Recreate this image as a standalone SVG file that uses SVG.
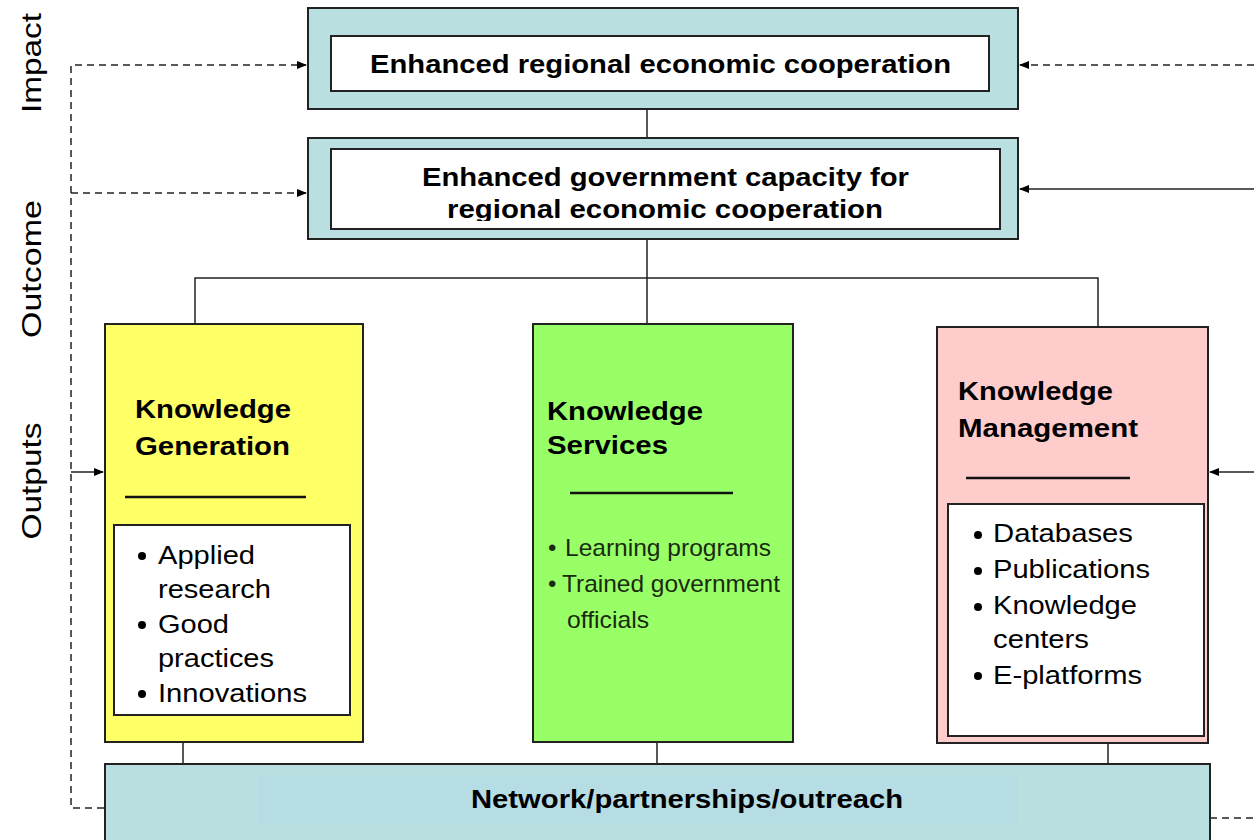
<svg xmlns="http://www.w3.org/2000/svg" width="1254" height="840" viewBox="0 0 1254 840">
<style>
.lbl{font-family:"Liberation Sans",Arial,sans-serif;font-size:28px;fill:#000}
.hd{font-family:"Liberation Sans",Arial,sans-serif;font-size:25px;font-weight:bold;fill:#000}
.bt{font-family:"Liberation Sans",Arial,sans-serif;font-size:25px;fill:#000}
.nar{font-family:"Liberation Sans",Arial,sans-serif;font-size:24px;fill:#1a2a10}
.box{stroke:#222;stroke-width:2}
.ln{stroke:#222;stroke-width:1.5;fill:none}
.dash{stroke:#222;stroke-width:1.5;fill:none;stroke-dasharray:7,5}
</style>
<defs>
<marker id="ah" markerWidth="10" markerHeight="10" refX="9" refY="5" orient="auto" markerUnits="userSpaceOnUse">
<path d="M0,1 L10,5 L0,9 Z" fill="#000"/>
</marker>
<clipPath id="clipOut"><rect x="331" y="150" width="668" height="71"/></clipPath>
</defs>
<rect width="1254" height="840" fill="#fff"/>

<text class="lbl" transform="translate(41,63) rotate(-90)" text-anchor="middle" textLength="100" lengthAdjust="spacingAndGlyphs">Impact</text>
<text class="lbl" transform="translate(41,269) rotate(-90)" text-anchor="middle" textLength="138" lengthAdjust="spacingAndGlyphs">Outcome</text>
<text class="lbl" transform="translate(41,481) rotate(-90)" text-anchor="middle" textLength="117" lengthAdjust="spacingAndGlyphs">Outputs</text>

<g id="connectors">
<path class="dash" d="M104,808 L71,808 L71,65 L306,65" marker-end="url(#ah)"/>
<path class="dash" d="M71,193 L306,193" marker-end="url(#ah)"/>
<path class="ln" d="M71,472 L103,472" marker-end="url(#ah)"/>
<path class="dash" d="M1254,65 L1020,65" marker-end="url(#ah)"/>
<path class="ln" d="M1254,189 L1020,189" marker-end="url(#ah)"/>
<path class="ln" d="M1254,472 L1210,472" marker-end="url(#ah)"/>
<path class="dash" d="M1210,818 L1254,818"/>
<path class="ln" d="M647,110 L647,138"/>
<path class="ln" d="M647,239 L647,278 M195,324 L195,278 L1098,278 L1098,327 M647,278 L647,324"/>
<path class="ln" d="M183,742 L183,764 M657,742 L657,764 M1108,743 L1108,764"/>
</g>

<g id="impact">
<rect class="box" x="308" y="8" width="710" height="101" fill="#b9dfe0"/>
<rect class="box" x="331" y="36" width="658" height="55" fill="#fff"/>
<text class="hd" x="370" y="73" textLength="581" lengthAdjust="spacingAndGlyphs">Enhanced regional economic cooperation</text>
</g>

<g id="outcome">
<rect class="box" x="308" y="138" width="710" height="101" fill="#b9dfe0"/>
<rect class="box" x="331" y="149" width="669" height="80" fill="#fff"/>
<g clip-path="url(#clipOut)">
<text class="hd" x="422" y="186" textLength="487" lengthAdjust="spacingAndGlyphs">Enhanced government capacity for</text>
<text class="hd" x="447" y="218" textLength="436" lengthAdjust="spacingAndGlyphs">regional economic cooperation</text>
</g>
</g>

<g id="generation">
<rect class="box" x="105" y="324" width="258" height="418" fill="#ffff66"/>
<text class="hd" x="135" y="418" textLength="156" lengthAdjust="spacingAndGlyphs">Knowledge</text>
<text class="hd" x="135" y="455" textLength="155" lengthAdjust="spacingAndGlyphs">Generation</text>
<line x1="125" y1="497" x2="306" y2="497" stroke="#111" stroke-width="2.5"/>
<rect class="box" x="114" y="525" width="236" height="190" fill="#fff"/>
<g fill="#000">
<circle cx="142" cy="556" r="4"/><circle cx="142" cy="625" r="4"/><circle cx="142" cy="694" r="4"/>
</g>
<g class="bt">
<text x="158" y="564" textLength="97" lengthAdjust="spacingAndGlyphs">Applied</text>
<text x="158" y="598" textLength="113" lengthAdjust="spacingAndGlyphs">research</text>
<text x="158" y="633" textLength="71" lengthAdjust="spacingAndGlyphs">Good</text>
<text x="158" y="667" textLength="116" lengthAdjust="spacingAndGlyphs">practices</text>
<text x="158" y="702" textLength="149" lengthAdjust="spacingAndGlyphs">Innovations</text>
</g>
</g>

<g id="services">
<rect class="box" x="533" y="324" width="260" height="418" fill="#99ff66"/>
<text class="hd" x="547" y="420" textLength="156" lengthAdjust="spacingAndGlyphs">Knowledge</text>
<text class="hd" x="547" y="454" textLength="121" lengthAdjust="spacingAndGlyphs">Services</text>
<line x1="570" y1="493" x2="733" y2="493" stroke="#111" stroke-width="2.5"/>
<g class="nar">
<text x="548" y="556">•</text><text x="565" y="556" textLength="206" lengthAdjust="spacingAndGlyphs">Learning programs</text>
<text x="548" y="592">•</text><text x="562" y="592" textLength="218" lengthAdjust="spacingAndGlyphs">Trained government</text>
<text x="567" y="628" textLength="82" lengthAdjust="spacingAndGlyphs">officials</text>
</g>
</g>

<g id="management">
<rect class="box" x="937" y="327" width="271" height="416" fill="#ffcccc"/>
<text class="hd" x="958" y="400" textLength="155" lengthAdjust="spacingAndGlyphs">Knowledge</text>
<text class="hd" x="958" y="437" textLength="180" lengthAdjust="spacingAndGlyphs">Management</text>
<line x1="966" y1="478" x2="1130" y2="478" stroke="#111" stroke-width="2.5"/>
<rect class="box" x="948" y="504" width="256" height="232" fill="#fff"/>
<g fill="#000">
<circle cx="978" cy="535" r="4"/><circle cx="978" cy="571" r="4"/><circle cx="978" cy="607" r="4"/><circle cx="978" cy="676" r="4"/>
</g>
<g class="bt">
<text x="993" y="542" textLength="140" lengthAdjust="spacingAndGlyphs">Databases</text>
<text x="993" y="578" textLength="157" lengthAdjust="spacingAndGlyphs">Publications</text>
<text x="993" y="614" textLength="144" lengthAdjust="spacingAndGlyphs">Knowledge</text>
<text x="993" y="648" textLength="96" lengthAdjust="spacingAndGlyphs">centers</text>
<text x="993" y="684" textLength="149" lengthAdjust="spacingAndGlyphs">E-platforms</text>
</g>
</g>

<g id="network">
<rect class="box" x="105" y="764" width="1105" height="90" fill="#b9dfe0"/>
<rect x="258" y="775" width="760" height="50" fill="#b6dce4"/>
<text class="hd" x="471" y="808" textLength="432" lengthAdjust="spacingAndGlyphs">Network/partnerships/outreach</text>
</g>
</svg>
